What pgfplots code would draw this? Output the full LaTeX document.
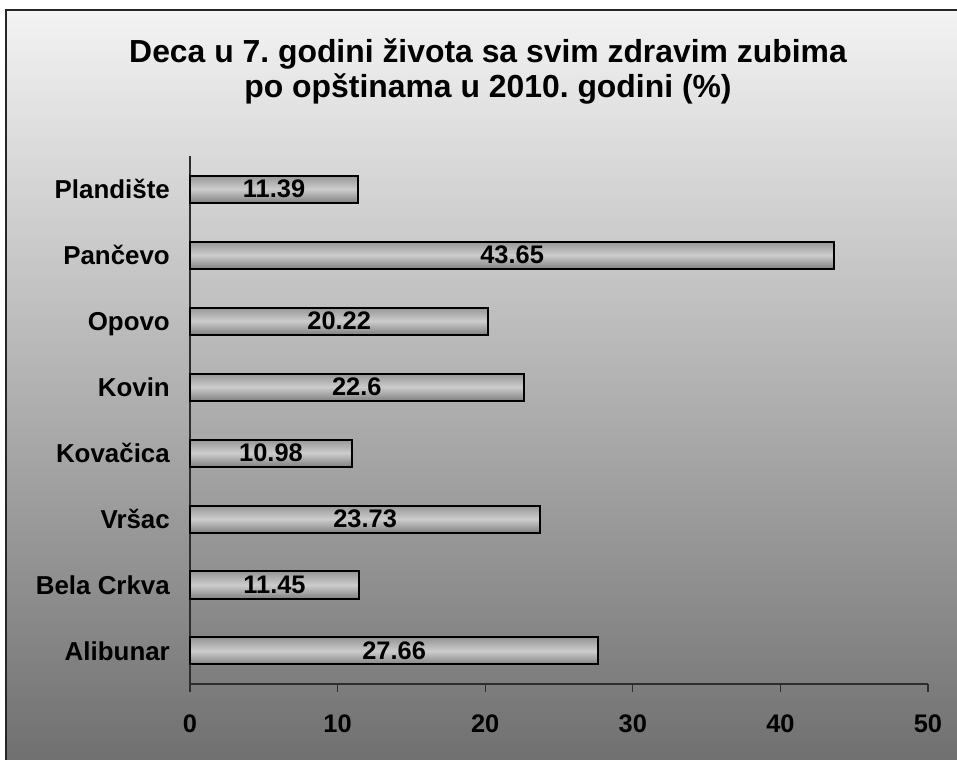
\documentclass[border=0pt]{standalone}
\usepackage{fontspec}
\setmainfont{Liberation Sans}
\usepackage{pgfplots}
\pgfplotsset{compat=1.18}

\definecolor{bgtop}{RGB}{243,243,243}
\definecolor{bgbot}{RGB}{112,112,112}
\definecolor{bartop}{RGB}{150,150,150}
\definecolor{barmid}{RGB}{204,204,204}
\definecolor{barbot}{RGB}{130,130,130}
\definecolor{axisline}{RGB}{45,45,45}

\newcommand{\lbl}{\fontsize{25.5}{30}\selectfont\bfseries}
\newcommand{\cat}{\fontsize{26}{30}\selectfont\bfseries}

% one plot per bar so that every bar gets its own shading
\pgfplotsset{
  zbar/.style={draw=black, line width=2bp,
    top color=bartop, bottom color=barbot, middle color=barmid,
    nodes near coords, point meta=explicit symbolic,
    visualization depends on={rawx \as \rawx},
    % 738bp / 50 units = 14.76bp per unit: label back to the bar's middle
    every node near coord/.append style={anchor=center, font=\lbl, black,
        xshift={-7.4077*\rawx}}},
}

\begin{document}
\frenchspacing
\begin{tikzpicture}
\fill[white] (0bp,0bp) rectangle (957bp,760bp);
\shade[top color=bgtop, bottom color=bgbot] (6bp,0bp) rectangle (957bp,750bp);
\draw[line width=1.6bp, black!85] (6bp,0bp) -- (6bp,750bp) -- (957bp,750bp);

\node[anchor=base, font=\fontsize{32}{36}\selectfont\bfseries] at (488bp,697bp)
  {Deca u 7. godini života sa svim zdravim zubima};
\node[anchor=base, font=\fontsize{32}{36}\selectfont\bfseries] at (488bp,662bp)
  {po opštinama u 2010. godini (\%)};

\begin{axis}[
    at={(190bp,76bp)}, anchor=south west,
    scale only axis, width=738bp, height=528bp,
    xbar, bar width=27bp, bar shift=0pt,
    xmin=0, xmax=50, ymin=-0.5, ymax=7.5,
    xtick={0,10,...,50},
    ytick={0,...,7},
    yticklabels={Alibunar,Bela Crkva,Vršac,Kovačica,Kovin,Opovo,Pančevo,Plandište},
    axis lines*=left,
    axis line style={axisline, line width=1.3bp},
    tick align=outside,
    major tick length=8bp,
    xtick style={axisline, line width=1.3bp},
    ytick style={draw=none},
    tick label style={font=\lbl, black},
    xticklabel style={anchor=north, inner sep=0pt, yshift=-23bp},
    % cap height of the 26bp labels, so each name sits centred on its bar
    yticklabel style={font=\cat, anchor=east, inner sep=0pt, xshift=-12bp,
        text height=18.6bp, text depth=0pt},
    /pgf/number format/assume math mode=true,
    clip=false,
]
\addplot[zbar] coordinates {(27.66,0) [27.66]};
\addplot[zbar] coordinates {(11.45,1) [11.45]};
\addplot[zbar] coordinates {(23.73,2) [23.73]};
\addplot[zbar] coordinates {(10.98,3) [10.98]};
\addplot[zbar] coordinates {(22.6,4) [22.6]};
\addplot[zbar] coordinates {(20.22,5) [20.22]};
\addplot[zbar] coordinates {(43.65,6) [43.65]};
\addplot[zbar] coordinates {(11.39,7) [11.39]};
\end{axis}
\pgfresetboundingbox
\useasboundingbox (0bp,0bp) rectangle (957bp,760bp);
\end{tikzpicture}
\end{document}
